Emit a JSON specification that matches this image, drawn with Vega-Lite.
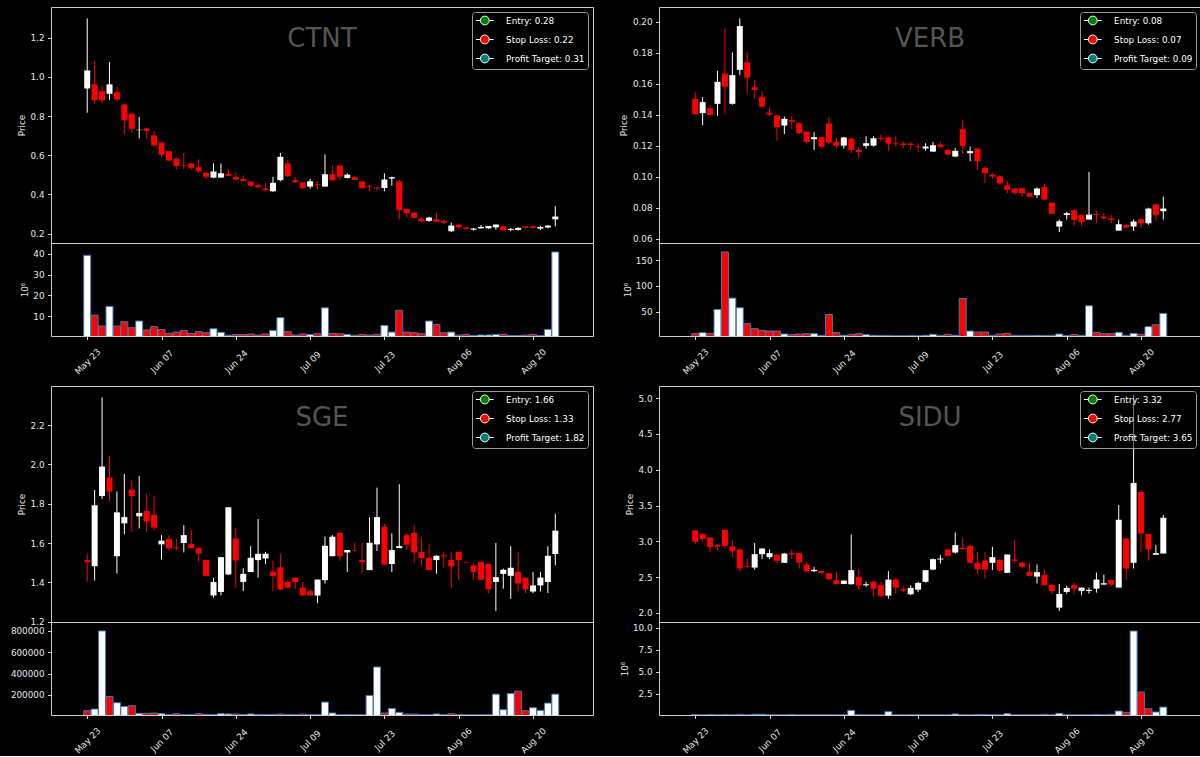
{
"$schema": "https://vega.github.io/schema/vega-lite/v6.json",
"background": "#000000",
"padding": {"left": 9, "top": 6, "right": 0, "bottom": 0},
"datasets": {
"px": [
{"t":"CTNT","i":0,"o":0.941,"h":1.299,"l":0.817,"c":1.033,"v":39200000},
{"t":"CTNT","i":1,"o":0.962,"h":1.081,"l":0.863,"c":0.881,"v":10600000},
{"t":"CTNT","i":2,"o":0.927,"h":0.956,"l":0.866,"c":0.881,"v":5400000},
{"t":"CTNT","i":3,"o":0.914,"h":1.076,"l":0.883,"c":0.962,"v":14800000},
{"t":"CTNT","i":4,"o":0.922,"h":0.948,"l":0.873,"c":0.885,"v":5400000},
{"t":"CTNT","i":5,"o":0.859,"h":0.864,"l":0.709,"c":0.778,"v":7500000},
{"t":"CTNT","i":6,"o":0.812,"h":0.815,"l":0.714,"c":0.735,"v":4600000},
{"t":"CTNT","i":7,"o":0.728,"h":0.796,"l":0.686,"c":0.730,"v":7800000},
{"t":"CTNT","i":8,"o":0.737,"h":0.740,"l":0.686,"c":0.725,"v":3500000},
{"t":"CTNT","i":9,"o":0.701,"h":0.723,"l":0.643,"c":0.651,"v":5100000},
{"t":"CTNT","i":10,"o":0.665,"h":0.665,"l":0.590,"c":0.602,"v":3700000},
{"t":"CTNT","i":11,"o":0.621,"h":0.621,"l":0.570,"c":0.573,"v":1900000},
{"t":"CTNT","i":12,"o":0.583,"h":0.592,"l":0.527,"c":0.546,"v":2500000},
{"t":"CTNT","i":13,"o":0.549,"h":0.612,"l":0.530,"c":0.546,"v":3300000},
{"t":"CTNT","i":14,"o":0.558,"h":0.558,"l":0.527,"c":0.536,"v":1900000},
{"t":"CTNT","i":15,"o":0.539,"h":0.580,"l":0.510,"c":0.519,"v":2700000},
{"t":"CTNT","i":16,"o":0.510,"h":0.517,"l":0.479,"c":0.490,"v":2200000},
{"t":"CTNT","i":17,"o":0.486,"h":0.559,"l":0.483,"c":0.517,"v":4100000},
{"t":"CTNT","i":18,"o":0.486,"h":0.558,"l":0.484,"c":0.508,"v":2400000},
{"t":"CTNT","i":19,"o":0.505,"h":0.530,"l":0.493,"c":0.495,"v":1000000},
{"t":"CTNT","i":20,"o":0.488,"h":0.513,"l":0.473,"c":0.476,"v":1300000},
{"t":"CTNT","i":21,"o":0.479,"h":0.498,"l":0.467,"c":0.469,"v":1300000},
{"t":"CTNT","i":22,"o":0.466,"h":0.466,"l":0.440,"c":0.444,"v":1600000},
{"t":"CTNT","i":23,"o":0.447,"h":0.457,"l":0.433,"c":0.437,"v":1100000},
{"t":"CTNT","i":24,"o":0.430,"h":0.456,"l":0.416,"c":0.422,"v":1600000},
{"t":"CTNT","i":25,"o":0.416,"h":0.490,"l":0.413,"c":0.459,"v":3300000},
{"t":"CTNT","i":26,"o":0.473,"h":0.612,"l":0.467,"c":0.592,"v":9400000},
{"t":"CTNT","i":27,"o":0.558,"h":0.577,"l":0.490,"c":0.493,"v":2700000},
{"t":"CTNT","i":28,"o":0.473,"h":0.488,"l":0.459,"c":0.462,"v":1100000},
{"t":"CTNT","i":29,"o":0.462,"h":0.462,"l":0.428,"c":0.432,"v":1600000},
{"t":"CTNT","i":30,"o":0.440,"h":0.479,"l":0.430,"c":0.467,"v":1300000},
{"t":"CTNT","i":31,"o":0.452,"h":0.467,"l":0.428,"c":0.448,"v":1700000},
{"t":"CTNT","i":32,"o":0.440,"h":0.604,"l":0.440,"c":0.503,"v":14100000},
{"t":"CTNT","i":33,"o":0.503,"h":0.548,"l":0.467,"c":0.473,"v":1900000},
{"t":"CTNT","i":34,"o":0.548,"h":0.548,"l":0.473,"c":0.491,"v":1700000},
{"t":"CTNT","i":35,"o":0.484,"h":0.508,"l":0.481,"c":0.501,"v":1400000},
{"t":"CTNT","i":36,"o":0.488,"h":0.495,"l":0.474,"c":0.474,"v":1000000},
{"t":"CTNT","i":37,"o":0.466,"h":0.466,"l":0.428,"c":0.432,"v":1400000},
{"t":"CTNT","i":38,"o":0.444,"h":0.447,"l":0.416,"c":0.440,"v":1100000},
{"t":"CTNT","i":39,"o":0.437,"h":0.438,"l":0.416,"c":0.432,"v":1400000},
{"t":"CTNT","i":40,"o":0.433,"h":0.508,"l":0.416,"c":0.476,"v":5700000},
{"t":"CTNT","i":41,"o":0.481,"h":0.491,"l":0.445,"c":0.488,"v":2500000},
{"t":"CTNT","i":42,"o":0.467,"h":0.473,"l":0.272,"c":0.321,"v":12900000},
{"t":"CTNT","i":43,"o":0.326,"h":0.326,"l":0.283,"c":0.304,"v":2500000},
{"t":"CTNT","i":44,"o":0.307,"h":0.307,"l":0.278,"c":0.280,"v":2200000},
{"t":"CTNT","i":45,"o":0.277,"h":0.285,"l":0.258,"c":0.263,"v":1700000},
{"t":"CTNT","i":46,"o":0.265,"h":0.285,"l":0.261,"c":0.282,"v":7800000},
{"t":"CTNT","i":47,"o":0.273,"h":0.307,"l":0.258,"c":0.260,"v":6200000},
{"t":"CTNT","i":48,"o":0.265,"h":0.270,"l":0.248,"c":0.256,"v":2200000},
{"t":"CTNT","i":49,"o":0.212,"h":0.256,"l":0.209,"c":0.241,"v":2500000},
{"t":"CTNT","i":50,"o":0.246,"h":0.246,"l":0.227,"c":0.232,"v":1100000},
{"t":"CTNT","i":51,"o":0.231,"h":0.236,"l":0.219,"c":0.224,"v":1400000},
{"t":"CTNT","i":52,"o":0.220,"h":0.229,"l":0.215,"c":0.226,"v":800000},
{"t":"CTNT","i":53,"o":0.227,"h":0.244,"l":0.226,"c":0.234,"v":1100000},
{"t":"CTNT","i":54,"o":0.227,"h":0.239,"l":0.224,"c":0.239,"v":1100000},
{"t":"CTNT","i":55,"o":0.232,"h":0.248,"l":0.220,"c":0.246,"v":1400000},
{"t":"CTNT","i":56,"o":0.237,"h":0.241,"l":0.214,"c":0.217,"v":1400000},
{"t":"CTNT","i":57,"o":0.219,"h":0.229,"l":0.212,"c":0.224,"v":800000},
{"t":"CTNT","i":58,"o":0.219,"h":0.233,"l":0.215,"c":0.229,"v":800000},
{"t":"CTNT","i":59,"o":0.236,"h":0.239,"l":0.224,"c":0.229,"v":1100000},
{"t":"CTNT","i":60,"o":0.237,"h":0.241,"l":0.226,"c":0.229,"v":1400000},
{"t":"CTNT","i":61,"o":0.226,"h":0.239,"l":0.219,"c":0.234,"v":800000},
{"t":"CTNT","i":62,"o":0.231,"h":0.244,"l":0.227,"c":0.241,"v":3800000},
{"t":"CTNT","i":63,"o":0.273,"h":0.340,"l":0.237,"c":0.287,"v":40800000},
{"t":"VERB","i":0,"o":0.1503,"h":0.1544,"l":0.1404,"c":0.1404,"v":7400000},
{"t":"VERB","i":1,"o":0.1411,"h":0.1514,"l":0.1333,"c":0.1482,"v":9400000},
{"t":"VERB","i":2,"o":0.1443,"h":0.1462,"l":0.1398,"c":0.1400,"v":7400000},
{"t":"VERB","i":3,"o":0.1471,"h":0.1684,"l":0.1394,"c":0.1613,"v":54500000},
{"t":"VERB","i":4,"o":0.1665,"h":0.1955,"l":0.1404,"c":0.1581,"v":166000000},
{"t":"VERB","i":5,"o":0.1471,"h":0.1802,"l":0.1465,"c":0.1656,"v":76500000},
{"t":"VERB","i":6,"o":0.1690,"h":0.2022,"l":0.1656,"c":0.1972,"v":57700000},
{"t":"VERB","i":7,"o":0.1738,"h":0.1802,"l":0.1535,"c":0.1639,"v":26800000},
{"t":"VERB","i":8,"o":0.1578,"h":0.1624,"l":0.1505,"c":0.1561,"v":17100000},
{"t":"VERB","i":9,"o":0.1516,"h":0.1553,"l":0.1450,"c":0.1452,"v":13900000},
{"t":"VERB","i":10,"o":0.1415,"h":0.1449,"l":0.1389,"c":0.1402,"v":12600000},
{"t":"VERB","i":11,"o":0.1396,"h":0.1396,"l":0.1234,"c":0.1320,"v":12600000},
{"t":"VERB","i":12,"o":0.1331,"h":0.1389,"l":0.1277,"c":0.1374,"v":6800000},
{"t":"VERB","i":13,"o":0.1366,"h":0.1391,"l":0.1310,"c":0.1355,"v":5500000},
{"t":"VERB","i":14,"o":0.1346,"h":0.1353,"l":0.1277,"c":0.1282,"v":6800000},
{"t":"VERB","i":15,"o":0.1292,"h":0.1292,"l":0.1209,"c":0.1226,"v":7400000},
{"t":"VERB","i":16,"o":0.1243,"h":0.1290,"l":0.1174,"c":0.1256,"v":7400000},
{"t":"VERB","i":17,"o":0.1256,"h":0.1256,"l":0.1183,"c":0.1194,"v":4200000},
{"t":"VERB","i":18,"o":0.1344,"h":0.1385,"l":0.1209,"c":0.1222,"v":44800000},
{"t":"VERB","i":19,"o":0.1226,"h":0.1252,"l":0.1183,"c":0.1200,"v":9400000},
{"t":"VERB","i":20,"o":0.1202,"h":0.1258,"l":0.1183,"c":0.1254,"v":4200000},
{"t":"VERB","i":21,"o":0.1247,"h":0.1252,"l":0.1153,"c":0.1174,"v":6100000},
{"t":"VERB","i":22,"o":0.1174,"h":0.1196,"l":0.1123,"c":0.1161,"v":7400000},
{"t":"VERB","i":23,"o":0.1200,"h":0.1262,"l":0.1183,"c":0.1217,"v":5500000},
{"t":"VERB","i":24,"o":0.1202,"h":0.1262,"l":0.1196,"c":0.1249,"v":4200000},
{"t":"VERB","i":25,"o":0.1252,"h":0.1273,"l":0.1228,"c":0.1245,"v":4200000},
{"t":"VERB","i":26,"o":0.1254,"h":0.1258,"l":0.1166,"c":0.1215,"v":4200000},
{"t":"VERB","i":27,"o":0.1217,"h":0.1262,"l":0.1196,"c":0.1213,"v":3500000},
{"t":"VERB","i":28,"o":0.1215,"h":0.1230,"l":0.1183,"c":0.1206,"v":3500000},
{"t":"VERB","i":29,"o":0.1215,"h":0.1222,"l":0.1174,"c":0.1206,"v":4200000},
{"t":"VERB","i":30,"o":0.1196,"h":0.1217,"l":0.1161,"c":0.1191,"v":3500000},
{"t":"VERB","i":31,"o":0.1183,"h":0.1217,"l":0.1170,"c":0.1196,"v":4200000},
{"t":"VERB","i":32,"o":0.1163,"h":0.1226,"l":0.1161,"c":0.1204,"v":6100000},
{"t":"VERB","i":33,"o":0.1209,"h":0.1226,"l":0.1187,"c":0.1194,"v":4200000},
{"t":"VERB","i":34,"o":0.1174,"h":0.1181,"l":0.1140,"c":0.1144,"v":6100000},
{"t":"VERB","i":35,"o":0.1131,"h":0.1185,"l":0.1127,"c":0.1168,"v":4200000},
{"t":"VERB","i":36,"o":0.1308,"h":0.1363,"l":0.1148,"c":0.1200,"v":75800000},
{"t":"VERB","i":37,"o":0.1153,"h":0.1196,"l":0.1101,"c":0.1166,"v":12600000},
{"t":"VERB","i":38,"o":0.1183,"h":0.1187,"l":0.1043,"c":0.1101,"v":10600000},
{"t":"VERB","i":39,"o":0.1058,"h":0.1067,"l":0.0961,"c":0.1024,"v":10600000},
{"t":"VERB","i":40,"o":0.1015,"h":0.1026,"l":0.0987,"c":0.1002,"v":4200000},
{"t":"VERB","i":41,"o":0.1004,"h":0.1011,"l":0.0946,"c":0.0959,"v":6800000},
{"t":"VERB","i":42,"o":0.0946,"h":0.0976,"l":0.0895,"c":0.0916,"v":8100000},
{"t":"VERB","i":43,"o":0.0925,"h":0.0929,"l":0.0882,"c":0.0897,"v":4200000},
{"t":"VERB","i":44,"o":0.0927,"h":0.0931,"l":0.0871,"c":0.0895,"v":4200000},
{"t":"VERB","i":45,"o":0.0897,"h":0.0899,"l":0.0865,"c":0.0873,"v":4200000},
{"t":"VERB","i":46,"o":0.0882,"h":0.0933,"l":0.0865,"c":0.0925,"v":4200000},
{"t":"VERB","i":47,"o":0.0935,"h":0.0953,"l":0.0849,"c":0.0854,"v":4200000},
{"t":"VERB","i":48,"o":0.0834,"h":0.0834,"l":0.0761,"c":0.0763,"v":4200000},
{"t":"VERB","i":49,"o":0.0680,"h":0.0725,"l":0.0645,"c":0.0714,"v":6800000},
{"t":"VERB","i":50,"o":0.0755,"h":0.0774,"l":0.0725,"c":0.0766,"v":3500000},
{"t":"VERB","i":51,"o":0.0785,"h":0.0791,"l":0.0686,"c":0.0723,"v":5500000},
{"t":"VERB","i":52,"o":0.0755,"h":0.0755,"l":0.0684,"c":0.0710,"v":4200000},
{"t":"VERB","i":53,"o":0.0725,"h":0.1032,"l":0.0723,"c":0.0757,"v":61600000},
{"t":"VERB","i":54,"o":0.0761,"h":0.0783,"l":0.0703,"c":0.0755,"v":10000000},
{"t":"VERB","i":55,"o":0.0744,"h":0.0770,"l":0.0725,"c":0.0733,"v":7400000},
{"t":"VERB","i":56,"o":0.0733,"h":0.0755,"l":0.0703,"c":0.0723,"v":7400000},
{"t":"VERB","i":57,"o":0.0654,"h":0.0725,"l":0.0654,"c":0.0695,"v":10000000},
{"t":"VERB","i":58,"o":0.0690,"h":0.0692,"l":0.0671,"c":0.0673,"v":4200000},
{"t":"VERB","i":59,"o":0.0680,"h":0.0725,"l":0.0652,"c":0.0712,"v":8100000},
{"t":"VERB","i":60,"o":0.0727,"h":0.0735,"l":0.0671,"c":0.0701,"v":6100000},
{"t":"VERB","i":61,"o":0.0701,"h":0.0802,"l":0.0692,"c":0.0796,"v":21000000},
{"t":"VERB","i":62,"o":0.0824,"h":0.0824,"l":0.0714,"c":0.0753,"v":24800000},
{"t":"VERB","i":63,"o":0.0779,"h":0.0873,"l":0.0725,"c":0.0796,"v":46800000},
{"t":"SGE","i":0,"o":1.513,"h":1.544,"l":1.404,"c":1.503,"v":50800},
{"t":"SGE","i":1,"o":1.482,"h":1.870,"l":1.409,"c":1.792,"v":66300},
{"t":"SGE","i":2,"o":1.839,"h":2.341,"l":1.824,"c":1.989,"v":800000},
{"t":"SGE","i":3,"o":1.933,"h":2.042,"l":1.814,"c":1.862,"v":184500},
{"t":"SGE","i":4,"o":1.533,"h":1.862,"l":1.445,"c":1.756,"v":125400},
{"t":"SGE","i":5,"o":1.700,"h":1.952,"l":1.644,"c":1.732,"v":91200},
{"t":"SGE","i":6,"o":1.872,"h":1.918,"l":1.657,"c":1.839,"v":97400},
{"t":"SGE","i":7,"o":1.736,"h":1.941,"l":1.674,"c":1.753,"v":25900},
{"t":"SGE","i":8,"o":1.763,"h":1.851,"l":1.657,"c":1.710,"v":25900},
{"t":"SGE","i":9,"o":1.743,"h":1.841,"l":1.663,"c":1.678,"v":29000},
{"t":"SGE","i":10,"o":1.593,"h":1.640,"l":1.516,"c":1.612,"v":22800},
{"t":"SGE","i":11,"o":1.620,"h":1.640,"l":1.561,"c":1.574,"v":13500},
{"t":"SGE","i":12,"o":1.578,"h":1.620,"l":1.564,"c":1.573,"v":22800},
{"t":"SGE","i":13,"o":1.600,"h":1.691,"l":1.552,"c":1.640,"v":13500},
{"t":"SGE","i":14,"o":1.595,"h":1.668,"l":1.574,"c":1.574,"v":13500},
{"t":"SGE","i":15,"o":1.574,"h":1.583,"l":1.504,"c":1.547,"v":22800},
{"t":"SGE","i":16,"o":1.513,"h":1.513,"l":1.433,"c":1.433,"v":16000},
{"t":"SGE","i":17,"o":1.333,"h":1.423,"l":1.322,"c":1.402,"v":13500},
{"t":"SGE","i":18,"o":1.351,"h":1.528,"l":1.334,"c":1.528,"v":22800},
{"t":"SGE","i":19,"o":1.440,"h":1.782,"l":1.437,"c":1.782,"v":19700},
{"t":"SGE","i":20,"o":1.622,"h":1.678,"l":1.373,"c":1.511,"v":19700},
{"t":"SGE","i":21,"o":1.402,"h":1.472,"l":1.355,"c":1.443,"v":13500},
{"t":"SGE","i":22,"o":1.452,"h":1.584,"l":1.452,"c":1.525,"v":19700},
{"t":"SGE","i":23,"o":1.513,"h":1.722,"l":1.424,"c":1.545,"v":13500},
{"t":"SGE","i":24,"o":1.521,"h":1.555,"l":1.493,"c":1.545,"v":13500},
{"t":"SGE","i":25,"o":1.454,"h":1.511,"l":1.355,"c":1.433,"v":16000},
{"t":"SGE","i":26,"o":1.476,"h":1.545,"l":1.363,"c":1.363,"v":19700},
{"t":"SGE","i":27,"o":1.402,"h":1.411,"l":1.365,"c":1.373,"v":16000},
{"t":"SGE","i":28,"o":1.424,"h":1.424,"l":1.365,"c":1.401,"v":13500},
{"t":"SGE","i":29,"o":1.373,"h":1.401,"l":1.333,"c":1.333,"v":19700},
{"t":"SGE","i":30,"o":1.355,"h":1.365,"l":1.333,"c":1.333,"v":13500},
{"t":"SGE","i":31,"o":1.333,"h":1.414,"l":1.294,"c":1.414,"v":13500},
{"t":"SGE","i":32,"o":1.411,"h":1.632,"l":1.394,"c":1.586,"v":131600},
{"t":"SGE","i":33,"o":1.533,"h":1.640,"l":1.533,"c":1.632,"v":29000},
{"t":"SGE","i":34,"o":1.652,"h":1.652,"l":1.510,"c":1.533,"v":13500},
{"t":"SGE","i":35,"o":1.552,"h":1.564,"l":1.453,"c":1.564,"v":13500},
{"t":"SGE","i":36,"o":1.564,"h":1.603,"l":1.561,"c":1.561,"v":13500},
{"t":"SGE","i":37,"o":1.513,"h":1.600,"l":1.445,"c":1.503,"v":13500},
{"t":"SGE","i":38,"o":1.462,"h":1.731,"l":1.462,"c":1.601,"v":193800},
{"t":"SGE","i":39,"o":1.593,"h":1.882,"l":1.559,"c":1.732,"v":461200},
{"t":"SGE","i":40,"o":1.683,"h":1.697,"l":1.491,"c":1.491,"v":29000},
{"t":"SGE","i":41,"o":1.493,"h":1.649,"l":1.453,"c":1.564,"v":72500},
{"t":"SGE","i":42,"o":1.574,"h":1.899,"l":1.574,"c":1.584,"v":35200},
{"t":"SGE","i":43,"o":1.640,"h":1.649,"l":1.564,"c":1.591,"v":19700},
{"t":"SGE","i":44,"o":1.652,"h":1.690,"l":1.499,"c":1.552,"v":19700},
{"t":"SGE","i":45,"o":1.555,"h":1.627,"l":1.484,"c":1.523,"v":13500},
{"t":"SGE","i":46,"o":1.525,"h":1.593,"l":1.462,"c":1.462,"v":13500},
{"t":"SGE","i":47,"o":1.513,"h":1.538,"l":1.443,"c":1.535,"v":19700},
{"t":"SGE","i":48,"o":1.537,"h":1.555,"l":1.476,"c":1.532,"v":13500},
{"t":"SGE","i":49,"o":1.513,"h":1.552,"l":1.373,"c":1.481,"v":22800},
{"t":"SGE","i":50,"o":1.555,"h":1.555,"l":1.411,"c":1.513,"v":13500},
{"t":"SGE","i":51,"o":1.504,"h":1.504,"l":1.501,"c":1.501,"v":13500},
{"t":"SGE","i":52,"o":1.486,"h":1.496,"l":1.414,"c":1.453,"v":13500},
{"t":"SGE","i":53,"o":1.504,"h":1.504,"l":1.413,"c":1.413,"v":13500},
{"t":"SGE","i":54,"o":1.494,"h":1.494,"l":1.345,"c":1.365,"v":13500},
{"t":"SGE","i":55,"o":1.402,"h":1.600,"l":1.254,"c":1.426,"v":206200},
{"t":"SGE","i":56,"o":1.443,"h":1.470,"l":1.368,"c":1.464,"v":60100},
{"t":"SGE","i":57,"o":1.433,"h":1.584,"l":1.316,"c":1.474,"v":212400},
{"t":"SGE","i":58,"o":1.453,"h":1.554,"l":1.355,"c":1.394,"v":234200},
{"t":"SGE","i":59,"o":1.424,"h":1.424,"l":1.345,"c":1.365,"v":50800},
{"t":"SGE","i":60,"o":1.353,"h":1.453,"l":1.345,"c":1.384,"v":78700},
{"t":"SGE","i":61,"o":1.384,"h":1.453,"l":1.353,"c":1.424,"v":53900},
{"t":"SGE","i":62,"o":1.402,"h":1.584,"l":1.345,"c":1.535,"v":122300},
{"t":"SGE","i":63,"o":1.544,"h":1.749,"l":1.487,"c":1.663,"v":206200},
{"t":"SIDU","i":0,"o":3.152,"h":3.152,"l":2.961,"c":2.993,"v":150000},
{"t":"SIDU","i":1,"o":3.105,"h":3.105,"l":3.003,"c":3.031,"v":120000},
{"t":"SIDU","i":2,"o":3.054,"h":3.054,"l":2.849,"c":2.919,"v":150000},
{"t":"SIDU","i":3,"o":2.951,"h":2.961,"l":2.872,"c":2.928,"v":120000},
{"t":"SIDU","i":4,"o":3.161,"h":3.161,"l":2.905,"c":2.937,"v":150000},
{"t":"SIDU","i":5,"o":2.928,"h":3.017,"l":2.774,"c":2.863,"v":120000},
{"t":"SIDU","i":6,"o":2.886,"h":2.905,"l":2.578,"c":2.620,"v":180000},
{"t":"SIDU","i":7,"o":2.653,"h":2.755,"l":2.639,"c":2.639,"v":120000},
{"t":"SIDU","i":8,"o":2.634,"h":2.975,"l":2.606,"c":2.821,"v":180000},
{"t":"SIDU","i":9,"o":2.821,"h":2.900,"l":2.751,"c":2.900,"v":180000},
{"t":"SIDU","i":10,"o":2.779,"h":2.886,"l":2.751,"c":2.835,"v":120000},
{"t":"SIDU","i":11,"o":2.812,"h":2.821,"l":2.700,"c":2.728,"v":120000},
{"t":"SIDU","i":12,"o":2.700,"h":2.830,"l":2.700,"c":2.830,"v":120000},
{"t":"SIDU","i":13,"o":2.835,"h":2.886,"l":2.755,"c":2.816,"v":150000},
{"t":"SIDU","i":14,"o":2.835,"h":2.835,"l":2.620,"c":2.704,"v":120000},
{"t":"SIDU","i":15,"o":2.676,"h":2.713,"l":2.564,"c":2.583,"v":120000},
{"t":"SIDU","i":16,"o":2.583,"h":2.643,"l":2.574,"c":2.602,"v":120000},
{"t":"SIDU","i":17,"o":2.588,"h":2.588,"l":2.550,"c":2.555,"v":120000},
{"t":"SIDU","i":18,"o":2.555,"h":2.555,"l":2.462,"c":2.471,"v":120000},
{"t":"SIDU","i":19,"o":2.457,"h":2.574,"l":2.401,"c":2.401,"v":120000},
{"t":"SIDU","i":20,"o":2.405,"h":2.452,"l":2.401,"c":2.452,"v":120000},
{"t":"SIDU","i":21,"o":2.401,"h":3.096,"l":2.396,"c":2.597,"v":630000},
{"t":"SIDU","i":22,"o":2.504,"h":2.611,"l":2.322,"c":2.382,"v":150000},
{"t":"SIDU","i":23,"o":2.387,"h":2.434,"l":2.364,"c":2.401,"v":120000},
{"t":"SIDU","i":24,"o":2.438,"h":2.443,"l":2.224,"c":2.340,"v":120000},
{"t":"SIDU","i":25,"o":2.387,"h":2.434,"l":2.214,"c":2.242,"v":120000},
{"t":"SIDU","i":26,"o":2.242,"h":2.583,"l":2.200,"c":2.466,"v":480000},
{"t":"SIDU","i":27,"o":2.466,"h":2.490,"l":2.265,"c":2.354,"v":120000},
{"t":"SIDU","i":28,"o":2.331,"h":2.378,"l":2.294,"c":2.312,"v":120000},
{"t":"SIDU","i":29,"o":2.261,"h":2.387,"l":2.247,"c":2.350,"v":120000},
{"t":"SIDU","i":30,"o":2.326,"h":2.434,"l":2.294,"c":2.420,"v":120000},
{"t":"SIDU","i":31,"o":2.434,"h":2.597,"l":2.425,"c":2.597,"v":120000},
{"t":"SIDU","i":32,"o":2.606,"h":2.760,"l":2.597,"c":2.751,"v":120000},
{"t":"SIDU","i":33,"o":2.746,"h":2.807,"l":2.690,"c":2.760,"v":120000},
{"t":"SIDU","i":34,"o":2.886,"h":2.900,"l":2.783,"c":2.797,"v":120000},
{"t":"SIDU","i":35,"o":2.844,"h":3.124,"l":2.830,"c":2.947,"v":210000},
{"t":"SIDU","i":36,"o":2.909,"h":3.040,"l":2.886,"c":2.891,"v":120000},
{"t":"SIDU","i":37,"o":2.937,"h":2.947,"l":2.690,"c":2.700,"v":120000},
{"t":"SIDU","i":38,"o":2.695,"h":2.844,"l":2.550,"c":2.611,"v":150000},
{"t":"SIDU","i":39,"o":2.732,"h":2.853,"l":2.480,"c":2.606,"v":150000},
{"t":"SIDU","i":40,"o":2.700,"h":2.923,"l":2.597,"c":2.779,"v":120000},
{"t":"SIDU","i":41,"o":2.742,"h":2.760,"l":2.588,"c":2.588,"v":120000},
{"t":"SIDU","i":42,"o":2.560,"h":2.816,"l":2.560,"c":2.816,"v":250000},
{"t":"SIDU","i":43,"o":2.746,"h":3.026,"l":2.690,"c":2.728,"v":120000},
{"t":"SIDU","i":44,"o":2.704,"h":2.713,"l":2.620,"c":2.644,"v":120000},
{"t":"SIDU","i":45,"o":2.574,"h":2.700,"l":2.508,"c":2.518,"v":120000},
{"t":"SIDU","i":46,"o":2.508,"h":2.676,"l":2.410,"c":2.569,"v":120000},
{"t":"SIDU","i":47,"o":2.532,"h":2.606,"l":2.387,"c":2.387,"v":180000},
{"t":"SIDU","i":48,"o":2.392,"h":2.406,"l":2.266,"c":2.303,"v":120000},
{"t":"SIDU","i":49,"o":2.074,"h":2.406,"l":2.028,"c":2.266,"v":290000},
{"t":"SIDU","i":50,"o":2.294,"h":2.378,"l":2.270,"c":2.350,"v":120000},
{"t":"SIDU","i":51,"o":2.387,"h":2.420,"l":2.261,"c":2.340,"v":120000},
{"t":"SIDU","i":52,"o":2.308,"h":2.354,"l":2.247,"c":2.354,"v":120000},
{"t":"SIDU","i":53,"o":2.308,"h":2.354,"l":2.270,"c":2.322,"v":120000},
{"t":"SIDU","i":54,"o":2.340,"h":2.564,"l":2.284,"c":2.466,"v":150000},
{"t":"SIDU","i":55,"o":2.396,"h":2.536,"l":2.396,"c":2.415,"v":120000},
{"t":"SIDU","i":56,"o":2.462,"h":2.462,"l":2.368,"c":2.396,"v":180000},
{"t":"SIDU","i":57,"o":2.354,"h":3.507,"l":2.354,"c":3.301,"v":550000},
{"t":"SIDU","i":58,"o":3.040,"h":3.040,"l":2.466,"c":2.620,"v":400000},
{"t":"SIDU","i":59,"o":2.700,"h":5.050,"l":2.620,"c":3.815,"v":9620000},
{"t":"SIDU","i":60,"o":3.689,"h":3.717,"l":2.853,"c":3.110,"v":2690000},
{"t":"SIDU","i":61,"o":3.101,"h":3.101,"l":2.728,"c":2.886,"v":810000},
{"t":"SIDU","i":62,"o":2.812,"h":2.947,"l":2.812,"c":2.835,"v":440000},
{"t":"SIDU","i":63,"o":2.830,"h":3.367,"l":2.830,"c":3.329,"v":1000000}
],
"lv": [
{"t":"CTNT","k":"Entry","p":0.28,"label":"Entry: 0.28"},
{"t":"CTNT","k":"Stop Loss","p":0.22,"label":"Stop Loss: 0.22"},
{"t":"CTNT","k":"Profit Target","p":0.31,"label":"Profit Target: 0.31"},
{"t":"VERB","k":"Entry","p":0.08,"label":"Entry: 0.08"},
{"t":"VERB","k":"Stop Loss","p":0.07,"label":"Stop Loss: 0.07"},
{"t":"VERB","k":"Profit Target","p":0.09,"label":"Profit Target: 0.09"},
{"t":"SGE","k":"Entry","p":1.66,"label":"Entry: 1.66"},
{"t":"SGE","k":"Stop Loss","p":1.33,"label":"Stop Loss: 1.33"},
{"t":"SGE","k":"Profit Target","p":1.82,"label":"Profit Target: 1.82"},
{"t":"SIDU","k":"Entry","p":3.32,"label":"Entry: 3.32"},
{"t":"SIDU","k":"Stop Loss","p":2.77,"label":"Stop Loss: 2.77"},
{"t":"SIDU","k":"Profit Target","p":3.65,"label":"Profit Target: 3.65"}
]
},
"columns": 2,
"spacing": {"row": 50, "column": 66},
"bounds": "flush",
"resolve": {"scale": {"color": "independent"}},
"concat": [
{
"width": 542, "height": 329,
"title": {"text": "CTNT", "fontSize": 26, "color": "#555555", "fontWeight": "normal", "anchor": "middle", "frame": "group", "offset": -66, "baseline": "alphabetic"},
"layer": [
{"data": {"name": "px"}, "transform": [{"filter": "datum.t == 'CTNT'"}],
 "layer": [
  {"mark": {"type": "rule", "strokeWidth": 1},
   "encoding": {
    "x": {"field": "i", "type": "quantitative", "scale": {"domain": [-4.2, 67.4], "nice": false, "zero": false}, "axis": {"orient": "bottom", "offset": -93, "labels": false, "ticks": false, "domain": true, "domainColor": "#cccccc", "domainWidth": 1, "title": null}},
    "y": {"field": "l", "type": "quantitative", "scale": {"domain": [0.152, 1.357], "range": [236, 0], "nice": false, "zero": false}, "axis": {"orient": "left", "values": [0.2, 0.4, 0.6, 0.8, 1.0, 1.2], "format": ".1f", "title": "Price", "titlePadding": 4}},
    "y2": {"field": "h"},
    "color": {"condition": {"test": "datum.c >= datum.o", "value": "#ffffff"}, "value": "#ff0000"}}},
  {"mark": {"type": "bar", "size": 6},
   "encoding": {
    "x": {"field": "i", "type": "quantitative"},
    "y": {"field": "o", "type": "quantitative"},
    "y2": {"field": "c"},
    "color": {"condition": {"test": "datum.c >= datum.o", "value": "#ffffff"}, "value": "#ff0000"}}}
 ]},
{"data": {"name": "lv"}, "transform": [{"filter": "datum.t == 'CTNT'"}],
 "mark": {"type": "point", "filled": true, "opacity": 0},
 "encoding": {"color": {"field": "label", "type": "nominal", "scale": {"domain": ["Entry: 0.28", "Stop Loss: 0.22", "Profit Target: 0.31"], "range": ["#008000", "#ff0000", "#008080"]}, "legend": {"title": null}}}},
{"data": {"name": "px"}, "transform": [{"filter": "datum.t == 'CTNT'"}],
 "mark": {"type": "bar", "size": 7, "stroke": "#3d7ab3", "strokeWidth": 1, "clip": true},
 "encoding": {
  "x": {"field": "i", "type": "quantitative", "scale": {"domain": [-4.2, 67.4], "nice": false, "zero": false}, "axis": {"orient": "bottom", "values": [0, 10, 20, 30, 40, 50, 60], "labelExpr": "['May 23','Jun 07','Jun 24','Jul 09','Jul 23','Aug 06','Aug 20'][round(datum.value/10)]", "labelAngle": -45, "labelAlign": "center", "labelBaseline": "middle", "labelPadding": 21.5, "title": null}},
  "y": {"field": "v", "type": "quantitative", "scale": {"domain": [630000, 45100000], "range": [329, 236], "nice": false, "zero": false}, "axis": {"orient": "left", "values": [10000000, 20000000, 30000000, 40000000], "labelExpr": "format(datum.value/1e6,'d')", "title": "10⁶", "titlePadding": 3}},
  "y2": {"datum": 0},
  "fill": {"condition": {"test": "datum.c >= datum.o", "value": "#ffffff"}, "value": "#ff0000"}}}
],
"resolve": {"scale": {"x": "independent", "y": "independent"}}
},
{
"width": 542, "height": 329,
"title": {"text": "VERB", "fontSize": 26, "color": "#555555", "fontWeight": "normal", "anchor": "middle", "frame": "group", "offset": -66, "baseline": "alphabetic"},
"layer": [
{"data": {"name": "px"}, "transform": [{"filter": "datum.t == 'VERB'"}],
 "layer": [
  {"mark": {"type": "rule", "strokeWidth": 1},
   "encoding": {
    "x": {"field": "i", "type": "quantitative", "scale": {"domain": [-4.2, 67.4], "nice": false, "zero": false}, "axis": {"orient": "bottom", "offset": -93, "labels": false, "ticks": false, "domain": true, "domainColor": "#cccccc", "domainWidth": 1, "title": null}},
    "y": {"field": "l", "type": "quantitative", "scale": {"domain": [0.0574, 0.2095], "range": [236, 0], "nice": false, "zero": false}, "axis": {"orient": "left", "values": [0.06, 0.08, 0.10, 0.12, 0.14, 0.16, 0.18, 0.20], "format": ".2f", "title": "Price", "titlePadding": 4}},
    "y2": {"field": "h"},
    "color": {"condition": {"test": "datum.c >= datum.o", "value": "#ffffff"}, "value": "#ff0000"}}},
  {"mark": {"type": "bar", "size": 6},
   "encoding": {
    "x": {"field": "i", "type": "quantitative"},
    "y": {"field": "o", "type": "quantitative"},
    "y2": {"field": "c"},
    "color": {"condition": {"test": "datum.c >= datum.o", "value": "#ffffff"}, "value": "#ff0000"}}}
 ]},
{"data": {"name": "lv"}, "transform": [{"filter": "datum.t == 'VERB'"}],
 "mark": {"type": "point", "filled": true, "opacity": 0},
 "encoding": {"color": {"field": "label", "type": "nominal", "scale": {"domain": ["Entry: 0.08", "Stop Loss: 0.07", "Profit Target: 0.09"], "range": ["#008000", "#ff0000", "#008080"]}, "legend": {"title": null}}}},
{"data": {"name": "px"}, "transform": [{"filter": "datum.t == 'VERB'"}],
 "mark": {"type": "bar", "size": 7, "stroke": "#3d7ab3", "strokeWidth": 1, "clip": true},
 "encoding": {
  "x": {"field": "i", "type": "quantitative", "scale": {"domain": [-4.2, 67.4], "nice": false, "zero": false}, "axis": {"orient": "bottom", "values": [0, 10, 20, 30, 40, 50, 60], "labelExpr": "['May 23','Jun 07','Jun 24','Jul 09','Jul 23','Aug 06','Aug 20'][round(datum.value/10)]", "labelAngle": -45, "labelAlign": "center", "labelBaseline": "middle", "labelPadding": 21.5, "title": null}},
  "y": {"field": "v", "type": "quantitative", "scale": {"domain": [2900000, 183500000], "range": [329, 236], "nice": false, "zero": false}, "axis": {"orient": "left", "values": [50000000, 100000000, 150000000], "labelExpr": "format(datum.value/1e6,'d')", "title": "10⁶", "titlePadding": 3}},
  "y2": {"datum": 0},
  "fill": {"condition": {"test": "datum.c >= datum.o", "value": "#ffffff"}, "value": "#ff0000"}}}
],
"resolve": {"scale": {"x": "independent", "y": "independent"}}
},
{
"width": 542, "height": 329,
"title": {"text": "SGE", "fontSize": 26, "color": "#555555", "fontWeight": "normal", "anchor": "middle", "frame": "group", "offset": -66, "baseline": "alphabetic"},
"layer": [
{"data": {"name": "px"}, "transform": [{"filter": "datum.t == 'SGE'"}],
 "layer": [
  {"mark": {"type": "rule", "strokeWidth": 1},
   "encoding": {
    "x": {"field": "i", "type": "quantitative", "scale": {"domain": [-4.2, 67.4], "nice": false, "zero": false}, "axis": {"orient": "bottom", "offset": -93, "labels": false, "ticks": false, "domain": true, "domainColor": "#cccccc", "domainWidth": 1, "title": null}},
    "y": {"field": "l", "type": "quantitative", "scale": {"domain": [1.198, 2.399], "range": [236, 0], "nice": false, "zero": false}, "axis": {"orient": "left", "values": [1.2, 1.4, 1.6, 1.8, 2.0, 2.2], "format": ".1f", "title": "Price", "titlePadding": 4}},
    "y2": {"field": "h"},
    "color": {"condition": {"test": "datum.c >= datum.o", "value": "#ffffff"}, "value": "#ff0000"}}},
  {"mark": {"type": "bar", "size": 6},
   "encoding": {
    "x": {"field": "i", "type": "quantitative"},
    "y": {"field": "o", "type": "quantitative"},
    "y2": {"field": "c"},
    "color": {"condition": {"test": "datum.c >= datum.o", "value": "#ffffff"}, "value": "#ff0000"}}}
 ]},
{"data": {"name": "lv"}, "transform": [{"filter": "datum.t == 'SGE'"}],
 "mark": {"type": "point", "filled": true, "opacity": 0},
 "encoding": {"color": {"field": "label", "type": "nominal", "scale": {"domain": ["Entry: 1.66", "Stop Loss: 1.33", "Profit Target: 1.82"], "range": ["#008000", "#ff0000", "#008080"]}, "legend": {"title": null}}}},
{"data": {"name": "px"}, "transform": [{"filter": "datum.t == 'SGE'"}],
 "mark": {"type": "bar", "size": 7, "stroke": "#3d7ab3", "strokeWidth": 1, "clip": true},
 "encoding": {
  "x": {"field": "i", "type": "quantitative", "scale": {"domain": [-4.2, 67.4], "nice": false, "zero": false}, "axis": {"orient": "bottom", "values": [0, 10, 20, 30, 40, 50, 60], "labelExpr": "['May 23','Jun 07','Jun 24','Jul 09','Jul 23','Aug 06','Aug 20'][round(datum.value/10)]", "labelAngle": -45, "labelAlign": "center", "labelBaseline": "middle", "labelPadding": 21.5, "title": null}},
  "y": {"field": "v", "type": "quantitative", "scale": {"domain": [10350, 884000], "range": [329, 236], "nice": false, "zero": false}, "axis": {"orient": "left", "values": [200000, 400000, 600000, 800000], "format": "d", "title": null}},
  "y2": {"datum": 0},
  "fill": {"condition": {"test": "datum.c >= datum.o", "value": "#ffffff"}, "value": "#ff0000"}}}
],
"resolve": {"scale": {"x": "independent", "y": "independent"}}
},
{
"width": 542, "height": 329,
"title": {"text": "SIDU", "fontSize": 26, "color": "#555555", "fontWeight": "normal", "anchor": "middle", "frame": "group", "offset": -66, "baseline": "alphabetic"},
"layer": [
{"data": {"name": "px"}, "transform": [{"filter": "datum.t == 'SIDU'"}],
 "layer": [
  {"mark": {"type": "rule", "strokeWidth": 1},
   "encoding": {
    "x": {"field": "i", "type": "quantitative", "scale": {"domain": [-4.2, 67.4], "nice": false, "zero": false}, "axis": {"orient": "bottom", "offset": -93, "labels": false, "ticks": false, "domain": true, "domainColor": "#cccccc", "domainWidth": 1, "title": null}},
    "y": {"field": "l", "type": "quantitative", "scale": {"domain": [1.874, 5.168], "range": [236, 0], "nice": false, "zero": false}, "axis": {"orient": "left", "values": [2.0, 2.5, 3.0, 3.5, 4.0, 4.5, 5.0], "format": ".1f", "title": "Price", "titlePadding": 4}},
    "y2": {"field": "h"},
    "color": {"condition": {"test": "datum.c >= datum.o", "value": "#ffffff"}, "value": "#ff0000"}}},
  {"mark": {"type": "bar", "size": 6},
   "encoding": {
    "x": {"field": "i", "type": "quantitative"},
    "y": {"field": "o", "type": "quantitative"},
    "y2": {"field": "c"},
    "color": {"condition": {"test": "datum.c >= datum.o", "value": "#ffffff"}, "value": "#ff0000"}}}
 ]},
{"data": {"name": "lv"}, "transform": [{"filter": "datum.t == 'SIDU'"}],
 "mark": {"type": "point", "filled": true, "opacity": 0},
 "encoding": {"color": {"field": "label", "type": "nominal", "scale": {"domain": ["Entry: 3.32", "Stop Loss: 2.77", "Profit Target: 3.65"], "range": ["#008000", "#ff0000", "#008080"]}, "legend": {"title": null}}}},
{"data": {"name": "px"}, "transform": [{"filter": "datum.t == 'SIDU'"}],
 "mark": {"type": "bar", "size": 7, "stroke": "#3d7ab3", "strokeWidth": 1, "clip": true},
 "encoding": {
  "x": {"field": "i", "type": "quantitative", "scale": {"domain": [-4.2, 67.4], "nice": false, "zero": false}, "axis": {"orient": "bottom", "values": [0, 10, 20, 30, 40, 50, 60], "labelExpr": "['May 23','Jun 07','Jun 24','Jul 09','Jul 23','Aug 06','Aug 20'][round(datum.value/10)]", "labelAngle": -45, "labelAlign": "center", "labelBaseline": "middle", "labelPadding": 21.5, "title": null}},
  "y": {"field": "v", "type": "quantitative", "scale": {"domain": [100000, 10640000], "range": [329, 236], "nice": false, "zero": false}, "axis": {"orient": "left", "values": [2500000, 5000000, 7500000, 10000000], "labelExpr": "format(datum.value/1e6,'.1f')", "title": "10⁶", "titlePadding": 3}},
  "y2": {"datum": 0},
  "fill": {"condition": {"test": "datum.c >= datum.o", "value": "#ffffff"}, "value": "#ff0000"}}}
],
"resolve": {"scale": {"x": "independent", "y": "independent"}}
}
],
"config": {
"font": "DejaVu Sans",
"view": {"stroke": "#cccccc", "strokeWidth": 1, "fill": "#000000"},
"axis": {"labelFont": "DejaVu Sans", "labelFontSize": 8.8, "labelColor": "#e6e6e6", "titleFont": "DejaVu Sans", "titleFontSize": 8.8, "titleFontWeight": "normal", "titleColor": "#e6e6e6", "tickColor": "#d0d0d0", "tickSize": 3.5, "tickWidth": 1, "labelPadding": 3.5, "domain": false, "grid": false, "labelOverlap": false, "labelFlush": false},
"legend": {"orient": "top-right", "offset": 5, "padding": 3.5, "fillColor": "rgba(0,0,0,0.55)", "strokeColor": "#9a9a9a", "cornerRadius": 3, "labelColor": "#ffffff", "labelFont": "DejaVu Sans", "labelFontSize": 8.8, "symbolType": "M-2,0L-1,0M1,0A1,1,0,1,1,-1,0A1,1,0,1,1,1,0ZM1,0L2,0", "symbolSize": 78, "symbolStrokeColor": "#ffffff", "symbolStrokeWidth": 1, "symbolOpacity": 1, "symbolOffset": 4.3, "labelOffset": 16.3, "rowPadding": 5},
"title": {"font": "DejaVu Sans"}
}
}
